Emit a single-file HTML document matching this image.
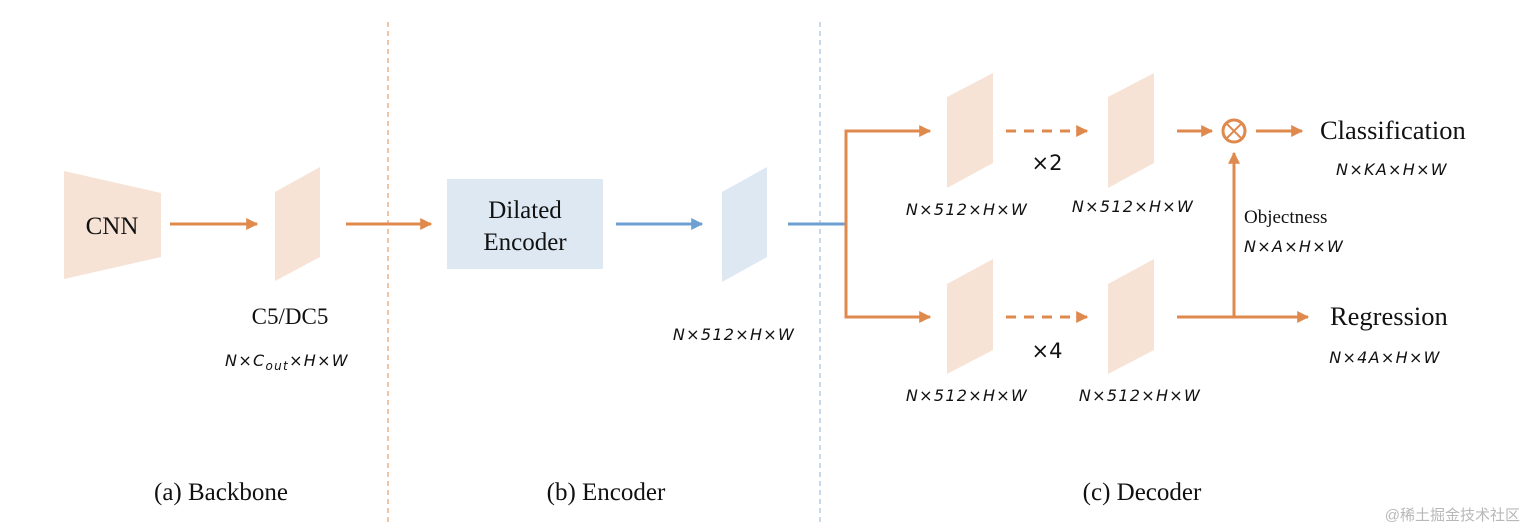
<!DOCTYPE html>
<html><head><meta charset="utf-8"><style>
html,body{margin:0;padding:0;background:#fff;}
svg{display:block;}
.t{font-family:"Liberation Serif",serif;fill:#111;}
.m{font-family:"DejaVu Sans","Liberation Serif",serif;font-style:italic;fill:#111;font-size:16px;letter-spacing:1.3px;}
</style></head><body>
<svg width="1528" height="532" viewBox="0 0 1528 532" xmlns="http://www.w3.org/2000/svg">
<defs>
<marker id="ao" viewBox="0 0 10 10" refX="9" refY="5" markerWidth="4" markerHeight="4" orient="auto"><path d="M0,0 L10,5 L0,10 z" fill="#e0894d"/></marker>
<marker id="ab" viewBox="0 0 10 10" refX="9" refY="5" markerWidth="4" markerHeight="4" orient="auto"><path d="M0,0 L10,5 L0,10 z" fill="#6d9fd3"/></marker>
</defs>
<line x1="388" y1="22" x2="388" y2="522" stroke="#e0894d" stroke-width="1" stroke-dasharray="5,4"/>
<line x1="820" y1="22" x2="820" y2="522" stroke="#8fb3d6" stroke-width="1" stroke-dasharray="5,4"/>
<polygon points="64,171 161,193 161,257 64,279" fill="#f7e3d6"/>
<text class="t" x="112" y="234" font-size="25" text-anchor="middle">CNN</text>
<line x1="170" y1="224" x2="257" y2="224" stroke="#e0894d" stroke-width="3" marker-end="url(#ao)"/>
<polygon points="275,192 320,167 320,257 275,281" fill="#f7e3d6"/>
<line x1="346" y1="224" x2="431" y2="224" stroke="#e0894d" stroke-width="3" marker-end="url(#ao)"/>
<text class="t" x="290" y="324" font-size="23" text-anchor="middle">C5/DC5</text>
<text class="m" x="287" y="366" text-anchor="middle">N×C<tspan font-size="12" dy="4">out</tspan><tspan dy="-4">×H×W</tspan></text>
<rect x="447" y="179" width="156" height="90" fill="#dde8f3"/>
<text class="t" x="525" y="218" font-size="25" text-anchor="middle">Dilated</text>
<text class="t" x="525" y="250" font-size="25" text-anchor="middle">Encoder</text>
<line x1="616" y1="224" x2="702" y2="224" stroke="#6d9fd3" stroke-width="3" marker-end="url(#ab)"/>
<polygon points="722,192 767,167 767,257 722,282" fill="#dde8f3"/>
<line x1="788" y1="224" x2="846" y2="224" stroke="#6d9fd3" stroke-width="3"/>
<text class="m" x="734" y="340" text-anchor="middle">N×512×H×W</text>
<polyline points="930,131 846,131 846,317 930,317" fill="none" stroke="#e0894d" stroke-width="3"/>
<line x1="900" y1="131" x2="930" y2="131" stroke="#e0894d" stroke-width="3" marker-end="url(#ao)"/>
<line x1="900" y1="317" x2="930" y2="317" stroke="#e0894d" stroke-width="3" marker-end="url(#ao)"/>
<polygon points="947,97 993,73 993,163 947,188" fill="#f7e3d6"/>
<polygon points="1108,97 1154,73 1154,163 1108,188" fill="#f7e3d6"/>
<polygon points="947,284 993,259 993,350 947,374" fill="#f7e3d6"/>
<polygon points="1108,284 1154,259 1154,350 1108,374" fill="#f7e3d6"/>
<line x1="1006" y1="131" x2="1087" y2="131" stroke="#e0894d" stroke-width="3" stroke-dasharray="10,8" marker-end="url(#ao)"/>
<line x1="1006" y1="317" x2="1087" y2="317" stroke="#e0894d" stroke-width="3" stroke-dasharray="10,8" marker-end="url(#ao)"/>
<text x="1047" y="170" font-family="DejaVu Sans,sans-serif" font-size="21" text-anchor="middle" fill="#111">×2</text>
<text x="1047" y="358" font-family="DejaVu Sans,sans-serif" font-size="21" text-anchor="middle" fill="#111">×4</text>
<text class="m" x="967" y="215" text-anchor="middle">N×512×H×W</text>
<text class="m" x="1133" y="212" text-anchor="middle">N×512×H×W</text>
<text class="m" x="967" y="401" text-anchor="middle">N×512×H×W</text>
<text class="m" x="1140" y="401" text-anchor="middle">N×512×H×W</text>
<line x1="1177" y1="131" x2="1212" y2="131" stroke="#e0894d" stroke-width="3" marker-end="url(#ao)"/>
<circle cx="1234" cy="131" r="11" fill="none" stroke="#e0894d" stroke-width="3"/>
<line x1="1227" y1="124" x2="1241" y2="138" stroke="#e0894d" stroke-width="2"/>
<line x1="1241" y1="124" x2="1227" y2="138" stroke="#e0894d" stroke-width="2"/>
<line x1="1256" y1="131" x2="1302" y2="131" stroke="#e0894d" stroke-width="3" marker-end="url(#ao)"/>
<line x1="1177" y1="317" x2="1308" y2="317" stroke="#e0894d" stroke-width="3" marker-end="url(#ao)"/>
<line x1="1234" y1="317" x2="1234" y2="153" stroke="#e0894d" stroke-width="3" marker-end="url(#ao)"/>
<text class="t" x="1320" y="139" font-size="26.5">Classification</text>
<text class="m" x="1392" y="175" text-anchor="middle">N×KA×H×W</text>
<text class="t" x="1244" y="223" font-size="19">Objectness</text>
<text class="m" x="1244" y="252">N×A×H×W</text>
<text class="t" x="1330" y="325" font-size="26.5">Regression</text>
<text class="m" x="1385" y="363" text-anchor="middle">N×4A×H×W</text>
<text class="t" x="221" y="500" font-size="25" text-anchor="middle">(a) Backbone</text>
<text class="t" x="606" y="500" font-size="25" text-anchor="middle">(b) Encoder</text>
<text class="t" x="1142" y="500" font-size="25" text-anchor="middle">(c) Decoder</text>
<text x="1520" y="520" font-family="Liberation Sans,Noto Sans CJK SC,sans-serif" font-size="15" text-anchor="end" fill="#b8b8b8">@稀土掘金技术社区</text>
</svg>
</body></html>
